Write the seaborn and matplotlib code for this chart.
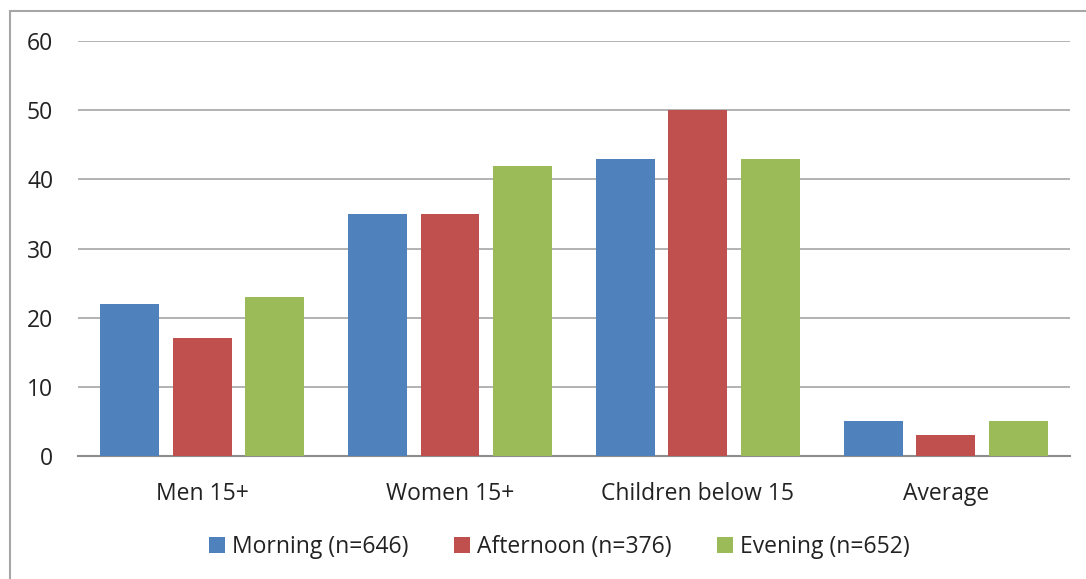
import numpy as np
import matplotlib
matplotlib.use("Agg")
import matplotlib.pyplot as plt
import pandas as pd
import seaborn as sns
from matplotlib.patches import Rectangle

# values
groups = ['Men 15+', 'Women 15+', 'Children below 15', 'Average']
periods = ['Morning (n=646)', 'Afternoon (n=376)', 'Evening (n=652)']
morning = [22, 35, 43, 5]
afternoon = [17, 35, 50, 3]
evening = [23, 42, 43, 5]
colors = ['#4F81BD', '#C0504D', '#9BBB59']

df = pd.DataFrame({
    'group': groups * 3,
    'period': [periods[0]] * 4 + [periods[1]] * 4 + [periods[2]] * 4,
    'value': morning + afternoon + evening,
})

sns.set_style('white')
plt.rcParams['font.family'] = ['Open Sans', 'DejaVu Sans']

fig = plt.figure(figsize=(10.86, 5.79), dpi=100)
ax = fig.add_axes([0.072, 0.2124, 0.913, 0.7166])

sns.barplot(data=df, x='group', y='value', hue='period', palette=colors,
            width=0.88, gap=0.19, saturation=1, linewidth=0, ax=ax, zorder=3)

ax.set_ylim(0, 60)
ax.set_yticks(range(0, 61, 10))
ax.yaxis.grid(True, color='#A6A6A6', linewidth=1.2, zorder=0)
ax.set_axisbelow(True)
for s in ['top', 'right', 'left']:
    ax.spines[s].set_visible(False)
ax.spines['bottom'].set_color('#8C8C8C')
ax.spines['bottom'].set_linewidth(1.5)
ax.tick_params(axis='y', length=0, pad=18, labelsize=16.5, labelcolor='#222222')
ax.tick_params(axis='x', length=0, pad=19, labelsize=16.5, labelcolor='#222222')
ax.set_xlabel('')
ax.set_ylabel('')

ax.legend(loc='center', bbox_to_anchor=(0.515, 0.055), bbox_transform=fig.transFigure,
          ncol=3, frameon=False, fontsize=16.5, handlelength=0.7, handleheight=0.7,
          handletextpad=0.3, columnspacing=2.0, labelcolor='#222222')

# outer chart border
fig.patches.append(Rectangle((0.0092, -0.05), 1.1, 1.031, transform=fig.transFigure,
                             fill=False, edgecolor='#A6A6A6', linewidth=1.5))

fig.savefig('out.png', dpi=100)
